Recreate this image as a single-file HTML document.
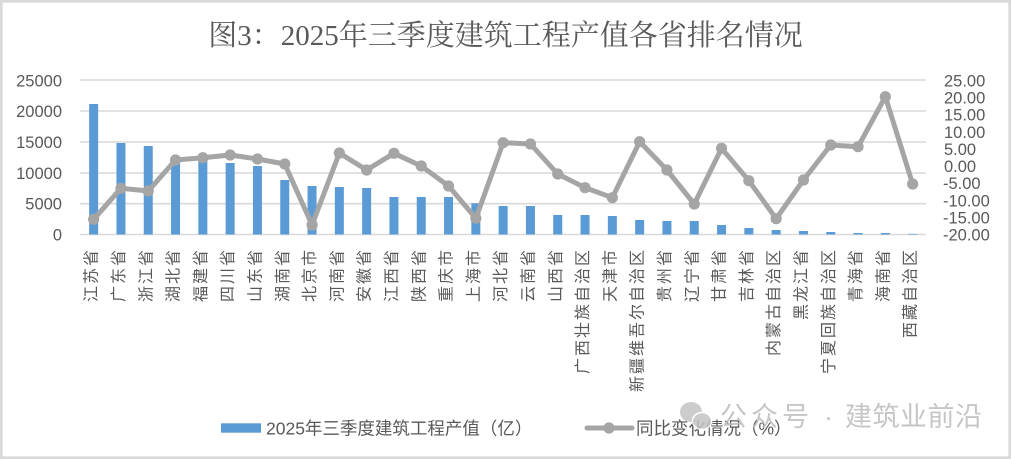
<!DOCTYPE html>
<html><head><meta charset="utf-8"><style>
html,body{margin:0;padding:0;background:#fff;}
svg{display:block;}
</style></head><body>
<svg width="1011" height="459" viewBox="0 0 1011 459" xmlns="http://www.w3.org/2000/svg">
<rect x="0" y="0" width="1011" height="459" fill="#fff"/>
<rect x="1.3" y="1.3" width="1008.4" height="456.4" fill="none" stroke="#d9d9d9" stroke-width="2.7"/>
<text x="505.5" y="45" text-anchor="middle" font-family="'Liberation Serif','Noto Serif CJK SC',serif" font-size="29" fill="#595959">图3：2025年三季度建筑工程产值各省排名情况</text>
<g stroke="#d9d9d9" stroke-width="1.6">
<line x1="80" y1="80" x2="926" y2="80"/>
<line x1="80" y1="111" x2="926" y2="111"/>
<line x1="80" y1="142" x2="926" y2="142"/>
<line x1="80" y1="173" x2="926" y2="173"/>
<line x1="80" y1="203.7" x2="926" y2="203.7"/>
<line x1="80" y1="234.5" x2="926" y2="234.5"/>
</g>
<g font-family="'Liberation Sans',sans-serif" font-size="16.5" fill="#595959" text-anchor="end">
<text x="62" y="86.4">25000</text>
<text x="62" y="117">20000</text>
<text x="62" y="148">15000</text>
<text x="62" y="179">10000</text>
<text x="62" y="209.6">5000</text>
<text x="62" y="240.4">0</text>
</g>
<g font-family="'Liberation Sans',sans-serif" font-size="16.5" fill="#595959">
<text x="944" y="86.4">25.00</text>
<text x="944" y="103.5">20.00</text>
<text x="944" y="120.7">15.00</text>
<text x="944" y="137.8">10.00</text>
<text x="944" y="154.9">5.00</text>
<text x="944" y="172.1">0.00</text>
<text x="943" y="189.2">-5.00</text>
<text x="943" y="206.3">-10.00</text>
<text x="943" y="223.4">-15.00</text>
<text x="943" y="240.6">-20.00</text>
</g>
<g fill="#5b9bd5">
<rect x="89.15" y="104" width="9" height="130.5"/>
<rect x="116.45" y="143" width="9" height="91.5"/>
<rect x="143.75" y="146" width="9" height="88.5"/>
<rect x="171.05" y="160.3" width="9" height="74.2"/>
<rect x="198.35" y="158.5" width="9" height="76"/>
<rect x="225.65" y="163" width="9" height="71.5"/>
<rect x="252.95" y="166" width="9" height="68.5"/>
<rect x="280.25" y="180" width="9" height="54.5"/>
<rect x="307.55" y="186" width="9" height="48.5"/>
<rect x="334.85" y="187" width="9" height="47.5"/>
<rect x="362.15" y="188" width="9" height="46.5"/>
<rect x="389.45" y="197" width="9" height="37.5"/>
<rect x="416.75" y="197" width="9" height="37.5"/>
<rect x="444.05" y="197" width="9" height="37.5"/>
<rect x="471.35" y="203.3" width="9" height="31.2"/>
<rect x="498.65" y="206" width="9" height="28.5"/>
<rect x="525.95" y="206" width="9" height="28.5"/>
<rect x="553.25" y="215" width="9" height="19.5"/>
<rect x="580.55" y="215" width="9" height="19.5"/>
<rect x="607.85" y="216" width="9" height="18.5"/>
<rect x="635.15" y="220" width="9" height="14.5"/>
<rect x="662.45" y="221" width="9" height="13.5"/>
<rect x="689.75" y="221" width="9" height="13.5"/>
<rect x="717.05" y="225" width="9" height="9.5"/>
<rect x="744.35" y="228" width="9" height="6.5"/>
<rect x="771.65" y="230" width="9" height="4.5"/>
<rect x="798.95" y="231" width="9" height="3.5"/>
<rect x="826.25" y="232" width="9" height="2.5"/>
<rect x="853.55" y="233" width="9" height="1.5"/>
<rect x="880.85" y="233" width="9" height="1.5"/>
<rect x="908.15" y="233.9" width="9" height="0.6"/>
</g>
<polyline fill="none" stroke="#a5a5a5" stroke-width="5" stroke-linejoin="round" stroke-linecap="round" points="93.65,219.3 120.95,188.3 148.25,191 175.55,160 202.85,157.7 230.15,155 257.45,159 284.75,164 312.05,225 339.35,153 366.65,170 393.95,153.3 421.25,166 448.55,186 475.85,218.3 503.15,142.7 530.45,144 557.75,174 585.05,187.7 612.35,197.7 639.65,141.7 666.95,170 694.25,204 721.55,148.3 748.85,180.7 776.15,218.7 803.45,180 830.75,145 858.05,146.7 885.35,96.7 912.65,184"/>
<g fill="#a5a5a5">
<circle cx="93.65" cy="219.3" r="5.6"/><circle cx="120.95" cy="188.3" r="5.6"/><circle cx="148.25" cy="191" r="5.6"/><circle cx="175.55" cy="160" r="5.6"/><circle cx="202.85" cy="157.7" r="5.6"/><circle cx="230.15" cy="155" r="5.6"/><circle cx="257.45" cy="159" r="5.6"/><circle cx="284.75" cy="164" r="5.6"/><circle cx="312.05" cy="225" r="5.6"/><circle cx="339.35" cy="153" r="5.6"/><circle cx="366.65" cy="170" r="5.6"/><circle cx="393.95" cy="153.3" r="5.6"/><circle cx="421.25" cy="166" r="5.6"/><circle cx="448.55" cy="186" r="5.6"/><circle cx="475.85" cy="218.3" r="5.6"/><circle cx="503.15" cy="142.7" r="5.6"/><circle cx="530.45" cy="144" r="5.6"/><circle cx="557.75" cy="174" r="5.6"/><circle cx="585.05" cy="187.7" r="5.6"/><circle cx="612.35" cy="197.7" r="5.6"/><circle cx="639.65" cy="141.7" r="5.6"/><circle cx="666.95" cy="170" r="5.6"/><circle cx="694.25" cy="204" r="5.6"/><circle cx="721.55" cy="148.3" r="5.6"/><circle cx="748.85" cy="180.7" r="5.6"/><circle cx="776.15" cy="218.7" r="5.6"/><circle cx="803.45" cy="180" r="5.6"/><circle cx="830.75" cy="145" r="5.6"/><circle cx="858.05" cy="146.7" r="5.6"/><circle cx="885.35" cy="96.7" r="5.6"/><circle cx="912.65" cy="184" r="5.6"/>
</g>
<g font-family="'Liberation Sans','Noto Sans CJK SC',sans-serif" font-size="16" letter-spacing="2" fill="#595959" text-anchor="end" dominant-baseline="central">
<text transform="translate(92.2,248) rotate(-90)">江苏省</text>
<text transform="translate(119.5,248) rotate(-90)">广东省</text>
<text transform="translate(146.8,248) rotate(-90)">浙江省</text>
<text transform="translate(174.1,248) rotate(-90)">湖北省</text>
<text transform="translate(201.4,248) rotate(-90)">福建省</text>
<text transform="translate(228.7,248) rotate(-90)">四川省</text>
<text transform="translate(256,248) rotate(-90)">山东省</text>
<text transform="translate(283.3,248) rotate(-90)">湖南省</text>
<text transform="translate(310.6,248) rotate(-90)">北京市</text>
<text transform="translate(337.9,248) rotate(-90)">河南省</text>
<text transform="translate(365.2,248) rotate(-90)">安徽省</text>
<text transform="translate(392.5,248) rotate(-90)">江西省</text>
<text transform="translate(419.8,248) rotate(-90)">陕西省</text>
<text transform="translate(447.1,248) rotate(-90)">重庆市</text>
<text transform="translate(474.4,248) rotate(-90)">上海市</text>
<text transform="translate(501.7,248) rotate(-90)">河北省</text>
<text transform="translate(529,248) rotate(-90)">云南省</text>
<text transform="translate(556.3,248) rotate(-90)">山西省</text>
<text transform="translate(583.6,248) rotate(-90)">广西壮族自治区</text>
<text transform="translate(610.9,248) rotate(-90)">天津市</text>
<text transform="translate(638.2,248) rotate(-90)">新疆维吾尔自治区</text>
<text transform="translate(665.5,248) rotate(-90)">贵州省</text>
<text transform="translate(692.8,248) rotate(-90)">辽宁省</text>
<text transform="translate(720.1,248) rotate(-90)">甘肃省</text>
<text transform="translate(747.4,248) rotate(-90)">吉林省</text>
<text transform="translate(774.7,248) rotate(-90)">内蒙古自治区</text>
<text transform="translate(802,248) rotate(-90)">黑龙江省</text>
<text transform="translate(829.3,248) rotate(-90)">宁夏回族自治区</text>
<text transform="translate(856.6,248) rotate(-90)">青海省</text>
<text transform="translate(883.9,248) rotate(-90)">海南省</text>
<text transform="translate(911.2,248) rotate(-90)">西藏自治区</text>
</g>
<rect x="221" y="423.3" width="40" height="9.4" fill="#5b9bd5"/>
<text x="266" y="434.3" font-family="'Liberation Sans','Noto Sans CJK SC',sans-serif" font-size="17.5" fill="#595959">2025年三季度建筑工程产值（亿）</text>
<line x1="587" y1="428" x2="632" y2="428" stroke="#a5a5a5" stroke-width="5" stroke-linecap="round"/>
<circle cx="609" cy="428" r="5.6" fill="#a5a5a5"/>
<text x="636" y="434.3" font-family="'Liberation Sans','Noto Sans CJK SC',sans-serif" font-size="17.5" fill="#595959">同比变化情况（%）</text>
<g opacity="0.85">
<ellipse cx="691" cy="412" rx="11" ry="10" fill="#c4c4c4"/>
<ellipse cx="702" cy="421" rx="9.5" ry="8.5" fill="#c4c4c4" stroke="#fff" stroke-width="1.5"/>
<text x="720" y="426" font-family="'Liberation Sans','Noto Sans CJK SC',sans-serif" font-size="27" letter-spacing="4" fill="#bdbdbd">公众号</text>
<text x="824" y="426" font-family="'Liberation Sans','Noto Sans CJK SC',sans-serif" font-size="27" fill="#bdbdbd">·</text>
<text x="845" y="426" font-family="'Liberation Sans','Noto Sans CJK SC',sans-serif" font-size="27" letter-spacing="0.5" fill="#bdbdbd">建筑业前沿</text>
</g>
</svg>
</body></html>
